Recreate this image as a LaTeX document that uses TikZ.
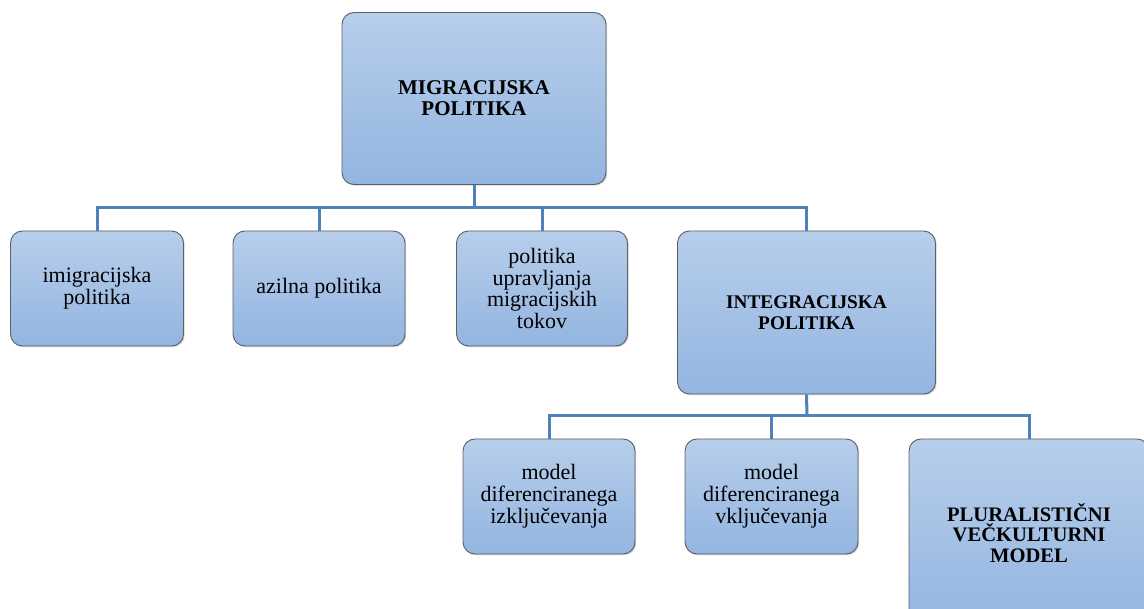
\documentclass[tikz,border=0pt]{standalone}
\usepackage{fontspec}
\setmainfont{Liberation Serif}
\usetikzlibrary{shadows}
\definecolor{boxtop}{RGB}{183,206,235}
\definecolor{boxbot}{RGB}{147,181,224}
\definecolor{boxline}{RGB}{90,95,105}
\definecolor{conncol}{RGB}{79,129,189}
\tikzset{
  card/.style={rectangle, rounded corners=12pt, draw=boxline, line width=0.9pt,
    top color=boxtop, bottom color=boxbot, align=center, inner sep=4pt,
    font=\fontsize{22}{21.8}\selectfont,
    drop shadow={opacity=0.35, shadow xshift=1.2pt, shadow yshift=-1.2pt}},
  bigbold/.style={font=\fontsize{21}{21}\selectfont\bfseries},
  conn/.style={draw=conncol, line width=3pt}
}
\begin{document}
\begin{tikzpicture}[x=1pt,y=-1pt]
\clip (0,0) rectangle (1144,609);
\fill[white] (0,0) rectangle (1144,609);
% nodes
\node[card, bigbold, minimum width=264pt, minimum height=172pt] (top) at (474,98.5) {MIGRACIJSKA\\POLITIKA};
\node[card, minimum width=173pt, minimum height=115pt] (n1) at (97,288.5) {imigracijska\\politika};
\node[card, minimum width=172pt, minimum height=115pt] (n2) at (319,288.5) {azilna politika};
\node[card, minimum width=171pt, minimum height=115pt] (n3) at (542,288.5) {politika\\upravljanja\\migracijskih\\tokov};
\node[card, bigbold, font=\fontsize{19.3}{20.5}\selectfont\bfseries, minimum width=258pt, minimum height=163pt] (n4) at (806.5,312.5) {INTEGRACIJSKA\\POLITIKA};
\node[card, minimum width=172pt, minimum height=115pt] (n5) at (549,496.5) {model\\diferenciranega\\izključevanja};
\node[card, minimum width=173pt, minimum height=115pt] (n6) at (771.5,496.5) {model\\diferenciranega\\vključevanja};
\node[card, bigbold, font=\fontsize{20.6}{20.5}\selectfont\bfseries, minimum width=240pt, minimum height=188pt] (n7) at (1029,533) {PLURALISTIČNI\\VEČKULTURNI\\MODEL};
% bus coordinates
\coordinate (b1) at (474,208);
\coordinate (b2) at (807,416);
% connectors level 1
\draw[conn] (top.south) -- (b1);
\draw[conn] (n1.north) |- (b1);
\draw[conn] (b1) -| (n4.north);
\draw[conn] (n2.north) -- (n2.north |- b1);
\draw[conn] (n3.north) -- (n3.north |- b1);
% connectors level 2
\draw[conn] (n4.south) -- (b2);
\draw[conn] (n5.north) |- (b2);
\draw[conn] (b2) -| (n7.north);
\draw[conn] (n6.north) -- (n6.north |- b2);
\end{tikzpicture}
\end{document}
